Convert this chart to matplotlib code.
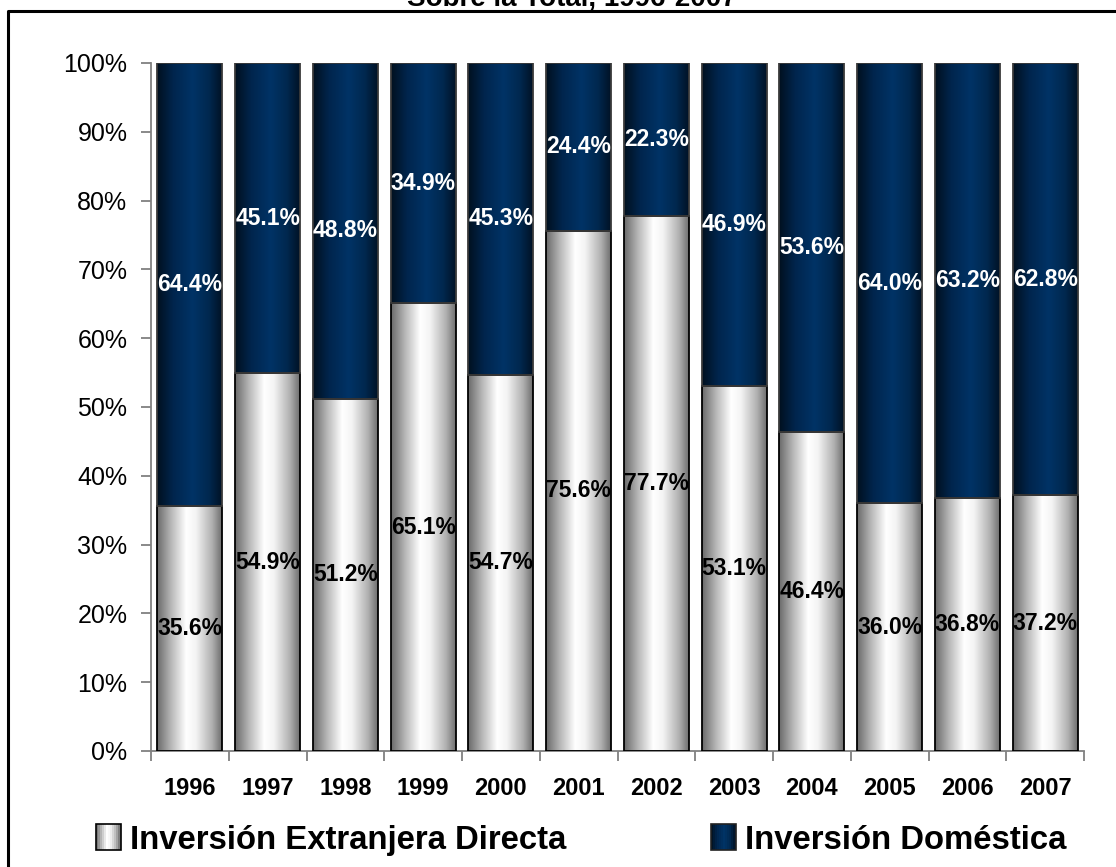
import numpy as np
import matplotlib
matplotlib.use("Agg")
import matplotlib.pyplot as plt
from matplotlib import font_manager
from matplotlib.colors import LinearSegmentedColormap
from matplotlib.legend_handler import HandlerBase
from matplotlib.patches import Rectangle
from matplotlib.lines import Line2D

years = ["1996", "1997", "1998", "1999", "2000", "2001", "2002", "2003", "2004", "2005", "2006", "2007"]
ied = [35.6, 54.9, 51.2, 65.1, 54.7, 75.6, 77.7, 53.1, 46.4, 36.0, 36.8, 37.2]
domestica = [64.4, 45.1, 48.8, 34.9, 45.3, 24.4, 22.3, 46.9, 53.6, 64.0, 63.2, 62.8]
series_names = ["Inversión Extranjera Directa", "Inversión Doméstica"]
yticks = [0, 10, 20, 30, 40, 50, 60, 70, 80, 90, 100]
title_text = "Sobre la Total, 1996-2007"

names = {f.name for f in font_manager.fontManager.ttflist}
NARROW = "Liberation Sans Narrow" if "Liberation Sans Narrow" in names else "Liberation Sans"
REG = "Liberation Sans"

light_cmap = LinearSegmentedColormap.from_list(
    "light", [(0.0, "#6a6a6a"), (0.22, "#b8b8b8"), (0.45, "#ffffff"), (0.6, "#f4f4f4"), (0.85, "#b0b0b0"), (1.0, "#6e6e6e")])
dark_cmap = LinearSegmentedColormap.from_list(
    "dark", [(0.0, "#00101f"), (0.25, "#00254d"), (0.55, "#003366"), (0.8, "#00284f"), (1.0, "#001226")])

fig = plt.figure(figsize=(11.16, 8.67), dpi=100)
ax = fig.add_axes([151 / 1116, 1 - 751 / 867, (1084 - 151) / 1116, (751 - 63) / 867])

x = np.arange(len(years))
w = 0.836
grad = np.linspace(0, 1, 256).reshape(1, -1)

bars1 = ax.bar(x, ied, width=w, color="none", edgecolor="black", linewidth=1.3, zorder=3)
bars2 = ax.bar(x, domestica, width=w, bottom=ied, color="none", edgecolor="#3a3a3a", linewidth=1.3, zorder=3)

for bars, cmap in ((bars1, light_cmap), (bars2, dark_cmap)):
    for b in bars:
        x0, y0 = b.get_x(), b.get_y()
        ax.imshow(grad, cmap=cmap, extent=[x0, x0 + b.get_width(), y0, y0 + b.get_height()],
                  aspect="auto", interpolation="bilinear", zorder=2)

for i in range(len(years)):
    ax.text(x[i], ied[i] / 2, f"{ied[i]:.1f}%", ha="center", va="center",
            fontsize=16.5, fontweight="bold", family=NARROW, color="black", zorder=4)
    ax.text(x[i], ied[i] + domestica[i] / 2, f"{domestica[i]:.1f}%", ha="center", va="center",
            fontsize=16.5, fontweight="bold", family=NARROW, color="white", zorder=4)

ax.set_xlim(-0.5, len(years) - 0.5)
ax.set_ylim(0, 100)
ax.set_yticks(yticks)
ax.set_yticklabels([f"{v}%" for v in yticks], fontsize=18, family=REG)
ax.set_xticks(x)
ax.set_xticklabels(years, fontsize=17, fontweight="bold", family=NARROW)
ax.set_xticks(np.arange(len(years) + 1) - 0.5, minor=True)
ax.tick_params(axis="x", which="major", length=0, pad=19)
ax.tick_params(axis="x", which="minor", length=7, color="#808080", width=1.3)
ax.tick_params(axis="y", length=7, color="#808080", width=1.3, pad=10)
for s in ("top", "right"):
    ax.spines[s].set_visible(False)
for s in ("left", "bottom"):
    ax.spines[s].set_color("#808080")
    ax.spines[s].set_linewidth(1.3)

# Outer frame (left and top edges visible)
fig.add_artist(Line2D([7.5 / 1116, 7.5 / 1116, 1.01], [-0.01, 1 - 10.5 / 867, 1 - 10.5 / 867],
                      transform=fig.transFigure, color="black", linewidth=2.2))

# Title, mostly cut off at the top edge (as in the source image)
fig.text(0.512, 1 - 6 / 867, title_text, ha="center", va="baseline",
         fontsize=20, fontweight="bold", family=NARROW)


class GradHandler(HandlerBase):
    def __init__(self, cmap, edge):
        super().__init__()
        self.cmap = cmap
        self.edge = edge

    def create_artists(self, legend, orig_handle, xdescent, ydescent, width, height, fontsize, trans):
        arts = []
        n = 12
        for k in range(n):
            c = self.cmap((k + 0.5) / n)
            arts.append(Rectangle((-xdescent + width * k / n, -ydescent), width / n, height,
                                  facecolor=c, edgecolor="none", transform=trans))
        arts.append(Rectangle((-xdescent, -ydescent), width, height, facecolor="none",
                              edgecolor=self.edge, linewidth=1.2, transform=trans))
        return arts


h1 = Rectangle((0, 0), 1, 1)
h2 = Rectangle((0, 0), 1, 1)
leg = fig.legend([h1, h2], series_names, loc="center", bbox_to_anchor=(0.5206, 1 - 840 / 867),
                 ncol=2, frameon=False, handlelength=0.75, handleheight=0.8, handletextpad=0.28,
                 columnspacing=4.4, borderaxespad=0,
                 prop=font_manager.FontProperties(family=REG, weight="bold", size=23.7),
                 handler_map={h1: GradHandler(light_cmap, "black"), h2: GradHandler(dark_cmap, "#222222")})

fig.savefig("out.png", dpi=100)
